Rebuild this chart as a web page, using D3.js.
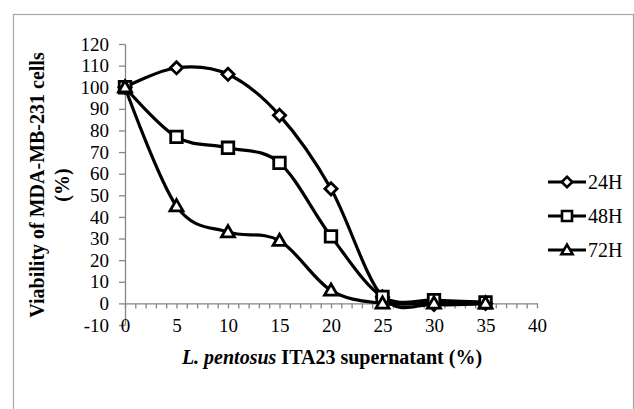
<!DOCTYPE html>
<html>
<head>
<meta charset="utf-8">
<script src="https://cdn.jsdelivr.net/npm/d3@7"></script>
<style>
  body { margin: 0; background: #fff; }
  text { font-family: "Liberation Serif", "Times New Roman", serif; }
</style>
</head>
<body>
<div id="chart"></div>
<script>
const width = 634;
const height = 409;

// data
const concentrations = [0, 5, 10, 15, 20, 25, 30, 35];
const h24 = [100, 109, 106, 87, 53, 3, -0.5, 0];
const h48 = [100, 77, 72, 65, 31, 3, 1.5, 0.5];
const h72 = [100, 45, 33, 29, 6, 0, 0, 0];
const seriesNames = ["24H", "48H", "72H"];
const yTicks = [-10, 0, 10, 20, 30, 40, 50, 60, 70, 80, 90, 100, 110, 120];
const xTicks = [0, 5, 10, 15, 20, 25, 30, 35, 40];

const series = [
  { name: seriesNames[0], values: h24, symbol: d3.symbolDiamond2 },
  { name: seriesNames[1], values: h48, symbol: d3.symbolSquare2 },
  { name: seriesNames[2], values: h72, symbol: d3.symbolTriangle2 }
];

const svg = d3.select("#chart")
  .append("svg")
  .attr("width", width)
  .attr("height", height);

// chart area border (runs off the right/bottom edges)
svg.append("rect")
  .attr("x", 13.5)
  .attr("y", 14.5)
  .attr("width", 620)
  .attr("height", 420)
  .attr("fill", "none")
  .attr("stroke", "#a6a6a6")
  .attr("stroke-width", 1.2);

const x = d3.scaleLinear()
  .domain([0, 40])
  .range([125, 537]);

const y = d3.scaleLinear()
  .domain([-10, 120])
  .range([325, 44]);

const axisColor = "#868686";

// y axis
const yAxis = svg.append("g")
  .attr("transform", `translate(${x(0)},0)`)
  .call(d3.axisLeft(y).tickValues(yTicks).tickSize(6).tickSizeOuter(0).tickPadding(10)
    .tickFormat(d => String(d)));
yAxis.select(".domain").attr("stroke", axisColor).attr("stroke-width", 1.3);
yAxis.selectAll(".tick line").attr("stroke", axisColor).attr("stroke-width", 1.3);
yAxis.selectAll(".tick text")
  .attr("font-size", 19)
  .attr("fill", "#000");

// x axis at y = 0, minor ticks every 1
const xMinor = svg.append("g")
  .attr("transform", `translate(0,${y(0)})`)
  .call(d3.axisBottom(x).ticks(40).tickSize(5).tickSizeOuter(0).tickFormat(""));
xMinor.select(".domain").attr("stroke", axisColor).attr("stroke-width", 1.3);
xMinor.selectAll(".tick line").attr("stroke", axisColor).attr("stroke-width", 1.3);

// x tick labels centred on the -10 level
const xLabels = svg.append("g")
  .attr("transform", `translate(0,${y(-10)})`)
  .call(d3.axisBottom(x).tickValues(xTicks).tickSize(0).tickPadding(0));
xLabels.select(".domain").remove();
xLabels.selectAll(".tick text")
  .attr("font-size", 19)
  .attr("fill", "#000")
  .attr("y", 0)
  .attr("dy", "0.35em");

// lines
const line = d3.line()
  .x((d, i) => x(concentrations[i]))
  .y(d => y(d))
  .curve(d3.curveCardinal.tension(0));

series.forEach(s => {
  svg.append("path")
    .datum(s.values)
    .attr("d", line)
    .attr("fill", "none")
    .attr("stroke", "#000")
    .attr("stroke-width", 3.2);
});

// markers
const symbolSizes = { "24H": 95, "48H": 170, "72H": 120 };
series.forEach(s => {
  svg.selectAll(null)
    .data(s.values)
    .enter()
    .append("path")
    .attr("d", d3.symbol().type(s.symbol).size(symbolSizes[s.name]))
    .attr("transform", (d, i) => `translate(${x(concentrations[i])},${y(d) + (s.name === "72H" ? 1 : 0)})`)
    .attr("fill", "#fff")
    .attr("stroke", "#000")
    .attr("stroke-width", 2.8);
});

// legend
const legend = svg.append("g");
series.forEach((s, i) => {
  const ly = [182, 216, 250][i];
  legend.append("line")
    .attr("x1", 548).attr("x2", 586)
    .attr("y1", ly).attr("y2", ly)
    .attr("stroke", "#000")
    .attr("stroke-width", 3.2);
  legend.append("path")
    .attr("d", d3.symbol().type(s.symbol).size(symbolSizes[s.name] * 0.75))
    .attr("transform", `translate(567,${ly + (s.name === "72H" ? 1 : 0)})`)
    .attr("fill", "#fff")
    .attr("stroke", "#000")
    .attr("stroke-width", 2.6);
  legend.append("text")
    .attr("x", 588)
    .attr("y", ly)
    .attr("dy", "0.35em")
    .attr("font-size", 20)
    .text(s.name);
});

// y axis title
const yTitle = svg.append("g")
  .attr("transform", `translate(37,185) rotate(-90)`);
yTitle.append("text")
  .attr("text-anchor", "middle")
  .attr("font-size", 20)
  .attr("font-weight", "bold")
  .attr("dy", "0.35em")
  .text("Viability of MDA-MB-231 cells");
yTitle.append("text")
  .attr("text-anchor", "middle")
  .attr("font-size", 20)
  .attr("font-weight", "bold")
  .attr("y", 25)
  .attr("dy", "0.35em")
  .text("(%)");

// x axis title
const xTitle = svg.append("text")
  .attr("x", 332)
  .attr("y", 357)
  .attr("dy", "0.35em")
  .attr("text-anchor", "middle")
  .attr("font-size", 20)
  .attr("font-weight", "bold");
xTitle.append("tspan").attr("font-style", "italic").text("L. pentosus");
xTitle.append("tspan").text(" ITA23 supernatant (%)");
</script>
</body>
</html>
